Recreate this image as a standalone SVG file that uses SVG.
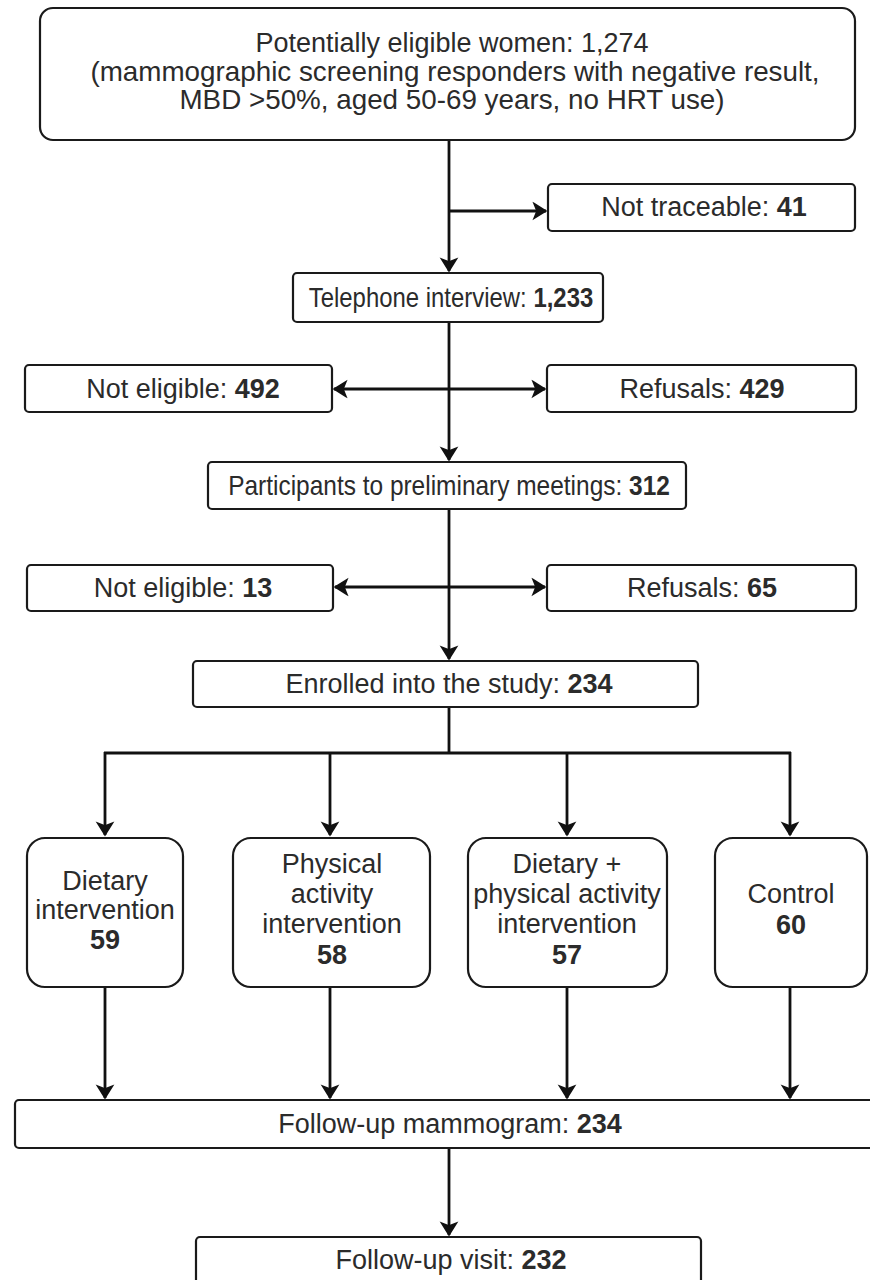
<svg xmlns="http://www.w3.org/2000/svg" width="870" height="1280" viewBox="0 0 870 1280">
<style>
.box{fill:#fff;stroke:#1a1a1a;stroke-width:2.2}
.t{font-family:"Liberation Sans",Arial,sans-serif;font-size:27px;fill:#2b2b2b;text-anchor:middle}
.b{font-weight:bold}
.c{fill:none;stroke:#111;stroke-width:2.8}
</style>
<defs>
<marker id="ah" viewBox="-14 -10 16 20" markerWidth="16" markerHeight="20" refX="0" refY="0" orient="auto-start-reverse" markerUnits="userSpaceOnUse">
<path d="M-12,-7.5 L0,0 L-12,7.5 L-9,0 Z" fill="#111" stroke="#111" stroke-width="1.5" stroke-linejoin="miter"/>
</marker>
</defs>
<rect width="870" height="1280" fill="#fff"/>
<g id="connectors">
<path class="c" d="M449,140 V271" marker-end="url(#ah)"/>
<path class="c" d="M449,211 H546" marker-end="url(#ah)"/>
<path class="c" d="M449,322 V460" marker-end="url(#ah)"/>
<path class="c" d="M334,389 H545" marker-start="url(#ah)" marker-end="url(#ah)"/>
<path class="c" d="M449,509 V659" marker-end="url(#ah)"/>
<path class="c" d="M335,587 H545" marker-start="url(#ah)" marker-end="url(#ah)"/>
<path class="c" d="M449,707 V753 M104,753 H791"/>
<path class="c" d="M105,752 V835" marker-end="url(#ah)"/>
<path class="c" d="M330,752 V835" marker-end="url(#ah)"/>
<path class="c" d="M567,752 V835" marker-end="url(#ah)"/>
<path class="c" d="M790,752 V835" marker-end="url(#ah)"/>
<path class="c" d="M105,987 V1098" marker-end="url(#ah)"/>
<path class="c" d="M330,987 V1098" marker-end="url(#ah)"/>
<path class="c" d="M567,987 V1098" marker-end="url(#ah)"/>
<path class="c" d="M790,987 V1098" marker-end="url(#ah)"/>
<path class="c" d="M449,1148 V1235" marker-end="url(#ah)"/>
</g>
<g id="n-eligible">
<rect class="box" x="40" y="8" width="815" height="132" rx="13"/>
<text class="t" x="452" y="52">Potentially eligible women: 1,274</text>
<text class="t" transform="translate(455,81) scale(1.03,1)" x="0" y="0">(mammographic screening responders with negative result,</text>
<text class="t" transform="translate(452,109) scale(1.03,1)" x="0" y="0">MBD &gt;50%, aged 50-69 years, no HRT use)</text>
</g>
<g id="n-nottraceable">
<rect class="box" x="548" y="184" width="307" height="47" rx="4"/>
<text class="t" x="704" y="216">Not traceable: <tspan class="b">41</tspan></text>
</g>
<g id="n-telephone">
<rect class="box" x="293" y="273" width="310" height="49" rx="4"/>
<text class="t" transform="translate(451,307) scale(0.886,1)" x="0" y="0">Telephone interview: <tspan class="b">1,233</tspan></text>
</g>
<g id="n-noteligible1">
<rect class="box" x="25" y="365" width="307" height="47" rx="4"/>
<text class="t" x="183" y="398">Not eligible: <tspan class="b">492</tspan></text>
</g>
<g id="n-refusals1">
<rect class="box" x="547" y="365" width="309" height="47" rx="4"/>
<text class="t" x="702" y="398">Refusals: <tspan class="b">429</tspan></text>
</g>
<g id="n-participants">
<rect class="box" x="208" y="462" width="478" height="47" rx="4"/>
<text class="t" transform="translate(449,495) scale(0.906,1)" x="0" y="0">Participants to preliminary meetings: <tspan class="b">312</tspan></text>
</g>
<g id="n-noteligible2">
<rect class="box" x="27" y="565" width="306" height="46" rx="4"/>
<text class="t" x="183" y="597">Not eligible: <tspan class="b">13</tspan></text>
</g>
<g id="n-refusals2">
<rect class="box" x="547" y="565" width="309" height="46" rx="4"/>
<text class="t" x="702" y="597">Refusals: <tspan class="b">65</tspan></text>
</g>
<g id="n-enrolled">
<rect class="box" x="193" y="661" width="505" height="46" rx="4"/>
<text class="t" x="449" y="693">Enrolled into the study: <tspan class="b">234</tspan></text>
</g>
<g id="n-dietary">
<rect class="box" x="27" y="838" width="156" height="149" rx="18"/>
<text class="t" x="105" y="890">Dietary</text>
<text class="t" x="105" y="919">intervention</text>
<text class="t b" x="105" y="949">59</text>
</g>
<g id="n-physical">
<rect class="box" x="233" y="838" width="197" height="149" rx="18"/>
<text class="t" x="332" y="873">Physical</text>
<text class="t" x="332" y="903">activity</text>
<text class="t" x="332" y="933">intervention</text>
<text class="t b" x="332" y="964">58</text>
</g>
<g id="n-combined">
<rect class="box" x="468" y="838" width="199" height="149" rx="18"/>
<text class="t" x="567" y="873">Dietary +</text>
<text class="t" x="567" y="903">physical activity</text>
<text class="t" x="567" y="933">intervention</text>
<text class="t b" x="567" y="964">57</text>
</g>
<g id="n-control">
<rect class="box" x="715" y="838" width="152" height="149" rx="18"/>
<text class="t" x="791" y="903">Control</text>
<text class="t b" x="791" y="934">60</text>
</g>
<g id="n-mammogram">
<rect class="box" x="15" y="1100" width="870" height="48" rx="4"/>
<text class="t" x="450" y="1133">Follow-up mammogram: <tspan class="b">234</tspan></text>
</g>
<g id="n-visit">
<rect class="box" x="196" y="1237" width="505" height="60" rx="4"/>
<text class="t" x="451" y="1269">Follow-up visit: <tspan class="b">232</tspan></text>
</g>
</svg>
